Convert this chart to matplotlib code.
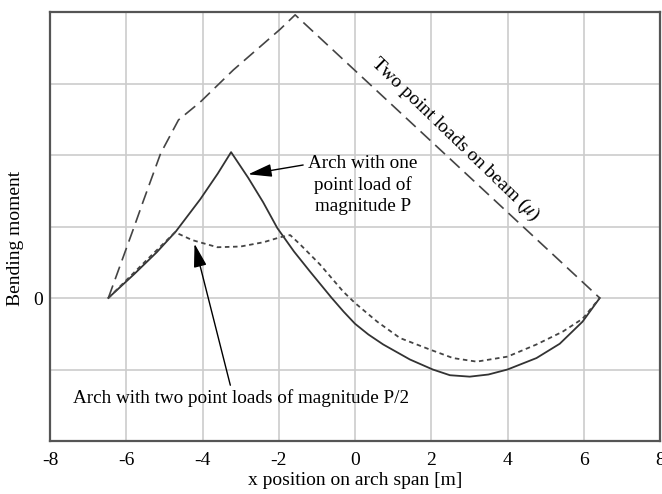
import matplotlib
matplotlib.use('Agg')
import matplotlib.pyplot as plt

# 글꼴: Times 비슷한 serif
plt.rcParams['font.family'] = ['Liberation Serif', 'DejaVu Serif']
plt.rcParams['mathtext.fontset'] = 'stix'

# beam with two point loads (mu)
beam_x = [-6.47, -6.15, -5.81, -5.55, -5.10, -4.63, -4.06, -3.19, -1.96, -1.57, 6.42]
beam_y = [0.0, 0.47, 0.97, 1.36, 2.02, 2.49, 2.74, 3.19, 3.76, 3.96, 0.0]

# arch with one point load P
one_x = [-6.47, -5.8, -5.2, -4.7, -4.06, -3.6, -3.25, -2.8, -2.41, -2.04, -1.6, -1.18, -0.61,
         -0.3, 0.0, 0.35, 0.74, 1.44, 2.04, 2.49, 3.01, 3.5, 4.0, 4.76, 5.37, 5.97, 6.42]
one_y = [0.0, 0.33, 0.64, 0.93, 1.38, 1.74, 2.04, 1.68, 1.34, 0.98, 0.65, 0.37, 0.0,
         -0.19, -0.36, -0.51, -0.65, -0.86, -1.0, -1.08, -1.10, -1.07, -1.0, -0.84, -0.64, -0.33, 0.0]

# arch with two point loads P/2
two_x = [-6.47, -5.37, -4.72, -4.27, -3.61, -3.0, -2.4, -1.96, -1.70, -1.44, -0.92, -0.31,
         0.0, 0.58, 1.18, 1.96, 2.57, 3.19, 4.0, 4.76, 5.45, 5.97, 6.42]
two_y = [0.0, 0.58, 0.92, 0.81, 0.71, 0.72, 0.78, 0.85, 0.88, 0.75, 0.47, 0.09,
         -0.07, -0.33, -0.56, -0.72, -0.84, -0.89, -0.82, -0.65, -0.47, -0.29, 0.0]

x_ticks = [-8, -6, -4, -2, 0, 2, 4, 6, 8]
y_grid = [-1, 0, 1, 2, 3]

fig = plt.figure(figsize=(6.62, 4.94), dpi=100)
ax = fig.add_axes([50 / 662, 53 / 494, 610 / 662, 429 / 494])

ax.plot(beam_x, beam_y, color='#444444', lw=1.2, dashes=(8, 4))
ax.plot(one_x, one_y, color='#333333', lw=1.3)
ax.plot(two_x, two_y, color='#444444', lw=1.3, dashes=(2.5, 2))

ax.set_xlim(-8, 8)
ax.set_ylim(-2, 4)
ax.set_xticks(x_ticks)
ax.set_xticklabels([str(t) for t in x_ticks])
ax.set_yticks(y_grid)
ax.set_yticklabels(['' if v != 0 else '0' for v in y_grid])
ax.grid(True, color='#cccccc', lw=1.2)
ax.set_axisbelow(True)
ax.tick_params(length=0, labelsize=14)
ax.tick_params(axis='x', pad=8)
ax.tick_params(axis='y', pad=5)
for s in ax.spines.values():
    s.set_color('#555555')
    s.set_linewidth(1.6)

ax.set_xlabel('x position on arch span [m]', fontsize=14)
ax.set_ylabel('Bending moment', fontsize=14)
ax.xaxis.set_label_coords(0.5, -0.072)
ax.yaxis.set_label_coords(-0.043, 0.473)

ax.text(2.62, 2.22, r'Two point loads on beam ($\mu$)', fontsize=14, rotation=-44,
        rotation_mode='anchor', ha='center', va='center')

arrow = dict(arrowstyle='-|>,head_length=0.8,head_width=0.22', color='black',
             lw=1.0, shrinkA=0, shrinkB=0, mutation_scale=18)

ax.text(0.21, 1.58, 'Arch with one\npoint load of\nmagnitude P', fontsize=13.8,
        ha='center', va='center', linespacing=1.3)
ax.annotate('', xy=(-2.80, 1.73), xytext=(-1.36, 1.86), arrowprops=arrow)

ax.text(-2.98, -1.40, 'Arch with two point loads of magnitude P/2', fontsize=13.8,
        ha='center', va='center')
ax.annotate('', xy=(-4.21, 0.76), xytext=(-3.27, -1.22), arrowprops=arrow)

fig.savefig('out.png', dpi=100)
